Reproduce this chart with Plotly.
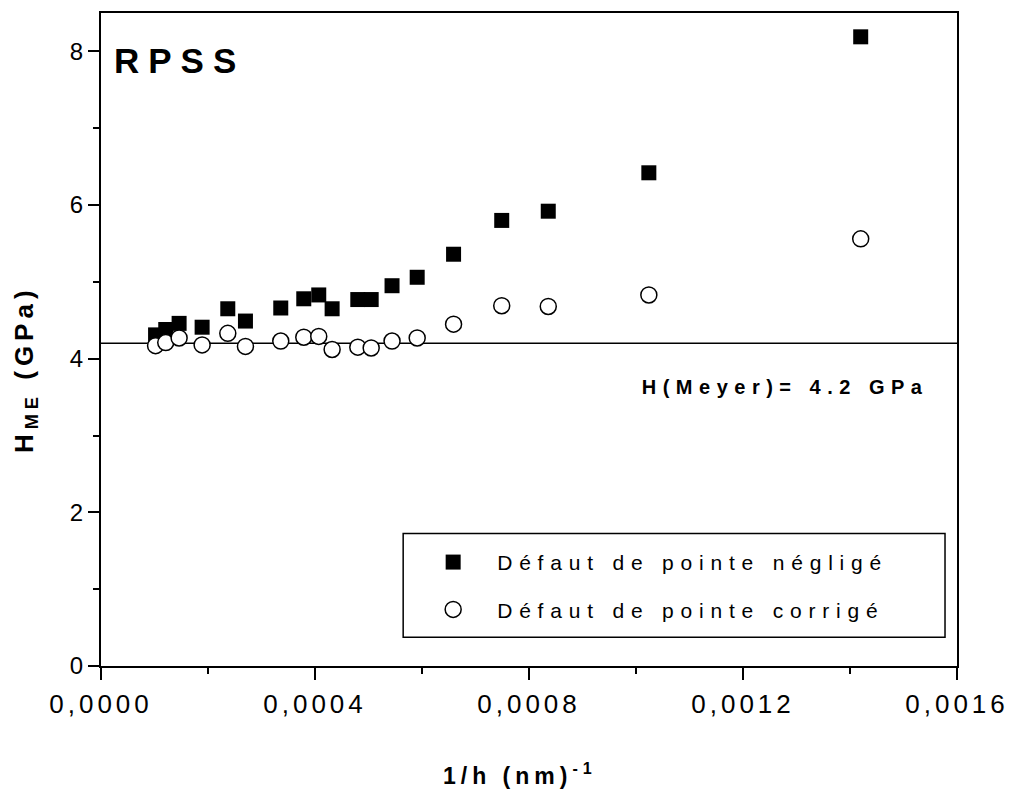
import plotly.graph_objects as go

# ---- data ----
inv_h = [0.000102, 0.000121, 0.000146, 0.000189, 0.000237, 0.000270, 0.000336,
         0.000379, 0.000407, 0.000432, 0.000480, 0.000505, 0.000544, 0.000591,
         0.000659, 0.000749, 0.000836, 0.001024, 0.001420]
h_neglige = [4.31, 4.38, 4.46, 4.41, 4.65, 4.49, 4.66, 4.78, 4.83, 4.65,
             4.77, 4.77, 4.95, 5.06, 5.36, 5.80, 5.92, 6.42, 8.19]
h_corrige = [4.17, 4.21, 4.27, 4.18, 4.33, 4.16, 4.23, 4.28, 4.29, 4.12,
             4.15, 4.14, 4.23, 4.27, 4.45, 4.69, 4.68, 4.83, 5.56]
h_meyer = 4.2

name_neglige = "Défaut de pointe négligé"
name_corrige = "Défaut de pointe corrigé"
x_range = [0, 0.0016]
y_range = [0, 8.5]

FONT = "Liberation Sans, Arial, sans-serif"

fig = go.Figure()
fig.add_trace(go.Scatter(
    x=inv_h, y=h_neglige, mode="markers", name=name_neglige, legendgroup="a",
    marker=dict(symbol="square", size=15, color="black", line=dict(width=0))))
fig.add_trace(go.Scatter(
    x=inv_h, y=h_corrige, mode="markers", name=name_corrige, legendgroup="b",
    marker=dict(symbol="circle", size=16, color="white",
                line=dict(width=1.5, color="black"))))

fig.add_shape(type="line", xref="paper", yref="y", x0=0, x1=1, y0=h_meyer, y1=h_meyer,
              line=dict(color="black", width=1.5), layer="below")
# legend frame
fig.add_shape(type="rect", xref="paper", yref="paper", x0=0.353, x1=0.986, y0=0.044, y1=0.203,
              line=dict(color="black", width=1.5), fillcolor="rgba(0,0,0,0)")

fig.add_annotation(text="<b>RPSS</b>", xref="paper", yref="paper", x=0.092, y=0.928,
                   showarrow=False, xanchor="center", yanchor="middle",
                   font=dict(family=FONT, size=35, color="black"))
fig.add_annotation(text="<b>H(Meyer)= 4.2 GPa</b>", xref="paper", yref="paper", x=0.80, y=0.4275,
                   showarrow=False, xanchor="center", yanchor="middle",
                   font=dict(family=FONT, size=20, color="black"))
fig.add_annotation(text="<b>1/h (nm)<sup>-1</sup></b>", xref="paper", yref="paper", x=0.49, y=-0.166,
                   showarrow=False, xanchor="center", yanchor="middle",
                   font=dict(family=FONT, size=23, color="black"))
fig.add_annotation(text="<b>H<sub>ME</sub> (GPa)</b>", xref="paper", yref="paper", x=-0.088, y=0.455,
                   showarrow=False, xanchor="center", yanchor="middle", textangle=-90,
                   font=dict(family=FONT, size=26, color="black"))

axis_common = dict(showgrid=False, zeroline=False, linecolor="black", tickcolor="black")

fig.update_layout(
    width=1013, height=794, autosize=False,
    margin=dict(l=101, r=56, t=11, b=128, pad=0),
    paper_bgcolor="white", plot_bgcolor="white",
    separators=",.",
    font=dict(family=FONT, color="black"),
    showlegend=True,
    legend=dict(x=0.36, y=0.19, xanchor="left", yanchor="top", bgcolor="rgba(0,0,0,0)",
                borderwidth=0, itemwidth=78, tracegroupgap=17,
                font=dict(family=FONT, size=21, color="black")),
    xaxis=dict(range=x_range, showline=True, linewidth=2, mirror=True,
               ticks="outside", ticklen=12, tickwidth=2, tick0=0, dtick=0.0004,
               tickformat=".4f", tickfont=dict(family=FONT, size=26, color="black"),
               ticklabelstandoff=2,
               minor=dict(ticks="outside", ticklen=6, tickwidth=2, dtick=0.0002, tickcolor="black"),
               **axis_common),
    yaxis=dict(range=y_range, showline=True, linewidth=2, mirror=True,
               ticks="outside", ticklen=11, tickwidth=2, tick0=0, dtick=2,
               tickfont=dict(family=FONT, size=24, color="black"),
               minor=dict(ticks="outside", ticklen=6, tickwidth=2, dtick=1, tickcolor="black"),
               **axis_common),
    xaxis2=dict(range=x_range, overlaying="x", side="top", anchor="y", showline=False,
                ticks="inside", ticklen=12, tickwidth=2, tick0=0, dtick=0.0004,
                showticklabels=False,
                minor=dict(ticks="inside", ticklen=6, tickwidth=2, dtick=0.0002, tickcolor="black"),
                **axis_common),
    yaxis2=dict(range=y_range, overlaying="y", side="right", anchor="x", showline=False,
                ticks="inside", ticklen=11, tickwidth=2, tick0=0, dtick=2,
                showticklabels=False,
                minor=dict(ticks="inside", ticklen=6, tickwidth=2, dtick=1, tickcolor="black"),
                **axis_common),
)

post = """
var s = document.createElement('style');
s.innerHTML = '.legendtext{letter-spacing:6.8px}' +
  '.legend .scrollbox{clip-path:none !important}' +
  '.xtick text{letter-spacing:4px}' +
  '.annotation[data-index="0"] text{letter-spacing:9px}' +
  '.annotation[data-index="1"] text{letter-spacing:6.5px}' +
  '.annotation[data-index="2"] text{letter-spacing:5px}' +
  '.annotation[data-index="3"] text{letter-spacing:5px}';
document.head.appendChild(s);
"""

fig.write_html("out.html", post_script=post)
